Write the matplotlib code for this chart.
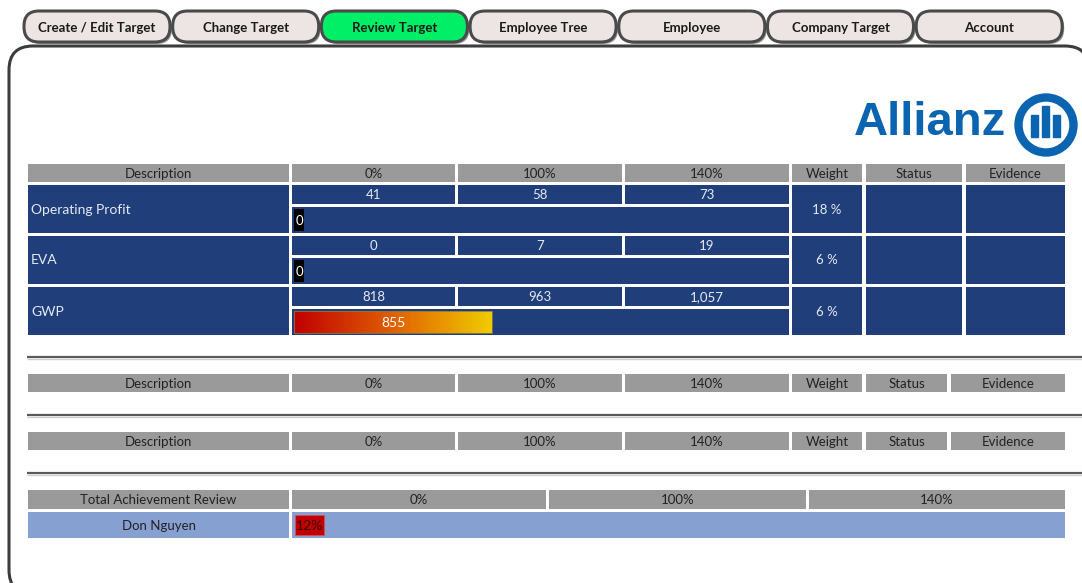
import numpy as np
import matplotlib.pyplot as plt
from matplotlib.patches import FancyBboxPatch, Rectangle, Wedge
from matplotlib.colors import LinearSegmentedColormap

plt.rcParams['font.family'] = ['Lato', 'DejaVu Sans']

# ---- data ----
tabs = ["Create / Edit Target", "Change Target", "Review Target", "Employee Tree",
        "Employee", "Company Target", "Account"]
active_tab = "Review Target"

header_cols = ["Description", "0%", "100%", "140%", "Weight", "Status", "Evidence"]
goals = ["Operating Profit", "EVA", "GWP"]
level_0 = [41, 0, 818]
level_100 = [58, 7, 963]
level_140 = [73, 19, 1057]
weights = [18, 6, 6]
achieved = [0, 0, 855]
bar_fraction = [0.0, 0.0, 0.40]

total_header = ["Total Achievement Review", "0%", "100%", "140%"]
total_name = "Don Nguyen"
total_pct = 12
total_fraction = 0.038

NAVY = '#203f7a'
GREY = '#9a9a9a'
LIGHT = '#87a0d2'
TXT_ON_NAVY = '#e4e9f2'
TXT_DARK = '#222222'


def cell(ax, x0, x1, y0, y1, color, text=None, tcolor=TXT_DARK, ha='center', size=9.5):
    ax.add_patch(Rectangle((x0, y0), x1 - x0, y1 - y0, facecolor=color, edgecolor='none'))
    if text is not None:
        tx = (x0 + x1) / 2 if ha == 'center' else x0 + 3
        ax.text(tx, (y0 + y1) / 2 + 0.5, text, ha=ha, va='center', color=tcolor, fontsize=size)


def header_row(ax, y0, y1, xs):
    for name, (a, b) in zip(header_cols, xs):
        cell(ax, a, b, y0, y1, GREY, name)


def separator(ax, y):
    ax.plot([27, 1082], [y, y], color='#5a5a5a', lw=1.6, solid_capstyle='butt')
    ax.plot([27, 1082], [y + 2, y + 2], color='#cfcfcf', lw=1.0, solid_capstyle='butt')


def main():
    fig = plt.figure(figsize=(10.82, 5.83), dpi=100)
    ax = fig.add_axes([0, 0, 1, 1])
    ax.set_xlim(0, 1082)
    ax.set_ylim(583, 0)
    ax.axis('off')

    # main panel with shadow
    for off, col, lw in [(2.5, '#b0b0b0', 4), (0, '#3c3c3c', 2.2)]:
        ax.add_patch(FancyBboxPatch((9 + off, 46 + off), 1080, 548,
                                    boxstyle='round,pad=0,rounding_size=24',
                                    facecolor='white' if off == 0 else 'none',
                                    edgecolor=col, lw=lw, zorder=1))

    # tabs
    tab_w, tab_gap, tab_x0 = 146, 2.7, 24
    for i, t in enumerate(tabs):
        x = tab_x0 + i * (tab_w + tab_gap)
        fc = '#00ef66' if t == active_tab else '#ede5e4'
        ax.add_patch(FancyBboxPatch((x + 2, 13), tab_w, 31,
                                    boxstyle='round,pad=0,rounding_size=15',
                                    facecolor='#9a9a9a', edgecolor='none', zorder=2))
        ax.add_patch(FancyBboxPatch((x, 11), tab_w, 31,
                                    boxstyle='round,pad=0,rounding_size=15',
                                    facecolor=fc, edgecolor='#4a4a4a', lw=2.2, zorder=3))
        ax.text(x + tab_w / 2, 28, t, ha='center', va='center', fontsize=9.5,
                fontweight='bold', color='#1a1a1a', zorder=4)

    # logo
    ax.text(1006, 123, "Allianz", ha='right', va='center', fontsize=34,
            fontweight='bold', color='#0a64b0', family=['Liberation Sans', 'DejaVu Sans'])
    ax.add_patch(Wedge((1046, 125), 31, 0, 360, width=7, color='#0a64b0'))
    for bx, top in [(1031, 115), (1042, 106), (1053, 115)]:
        ax.add_patch(Rectangle((bx, top), 6.5, 137 - top, color='#0a64b0'))

    # table 1
    xs = [(28, 289), (292, 455), (458, 622), (625, 789), (792, 862), (866, 962), (966, 1065)]
    header_row(ax, 164, 182, xs)
    cmap = LinearSegmentedColormap.from_list('grad', ['#c00000', '#e06000', '#f0cc00'])
    for i, g in enumerate(goals):
        y0 = 185 + i * 51
        y1 = y0 + 48
        ym = y0 + 19
        cell(ax, 28, 289, y0, y1, NAVY, g, TXT_ON_NAVY, ha='left', size=10)
        for (a, b), v in zip(xs[1:4], [level_0[i], level_100[i], level_140[i]]):
            cell(ax, a, b, y0, ym, NAVY, f"{v:,}", TXT_ON_NAVY)
        cell(ax, 292, 789, ym + 3, y1, NAVY)
        cell(ax, 792, 862, y0, y1, NAVY, f"{weights[i]} %", TXT_ON_NAVY)
        cell(ax, 866, 962, y0, y1, NAVY)
        cell(ax, 966, 1065, y0, y1, NAVY)
        # achievement bar
        bx0, bx1 = 294, 789
        by0, by1 = ym + 5, y1 - 2
        w = bar_fraction[i] * (bx1 - bx0)
        if w <= 0:
            ax.barh((by0 + by1) / 2, 10, left=bx0, height=by1 - by0, color='black')
            ax.text(bx0 + 5, (by0 + by1) / 2 + 1, f"{achieved[i]:,}", ha='center',
                    va='center', color='white', fontsize=9.5)
        else:
            grad = np.linspace(0, 1, 256).reshape(1, -1)
            ax.imshow(grad, cmap=cmap, aspect='auto', extent=[bx0, bx0 + w, by1, by0], zorder=2)
            ax.add_patch(Rectangle((bx0, by0), w, by1 - by0, facecolor='none',
                                   edgecolor='#8a7a40', lw=0.6, zorder=3))
            ax.text(bx0 + w / 2, (by0 + by1) / 2 + 1, f"{achieved[i]:,}", ha='center',
                    va='center', color='white', fontsize=10, zorder=4)

    separator(ax, 357)

    xs2 = [(28, 289), (292, 455), (458, 622), (625, 789), (792, 862), (866, 947), (951, 1065)]
    header_row(ax, 374, 392, xs2)
    separator(ax, 415)
    header_row(ax, 432, 450, xs2)
    separator(ax, 473)

    # total achievement
    xs3 = [(28, 289), (292, 546), (549, 806), (809, 1065)]
    for name, (a, b) in zip(total_header, xs3):
        cell(ax, a, b, 490, 509, GREY, name)
    cell(ax, 28, 289, 512, 538, LIGHT, total_name)
    cell(ax, 292, 1065, 512, 538, LIGHT)
    tw = total_fraction * (1065 - 295)
    ax.barh(525, tw, left=295, height=20, color='#c00000', edgecolor='#d05050', lw=0.6)
    ax.text(295 + tw / 2, 526, f"{total_pct}%", ha='center', va='center',
            color='#3a0000', fontsize=10)

    fig.savefig('out.png', dpi=100)


if __name__ == "__main__":
    main()
